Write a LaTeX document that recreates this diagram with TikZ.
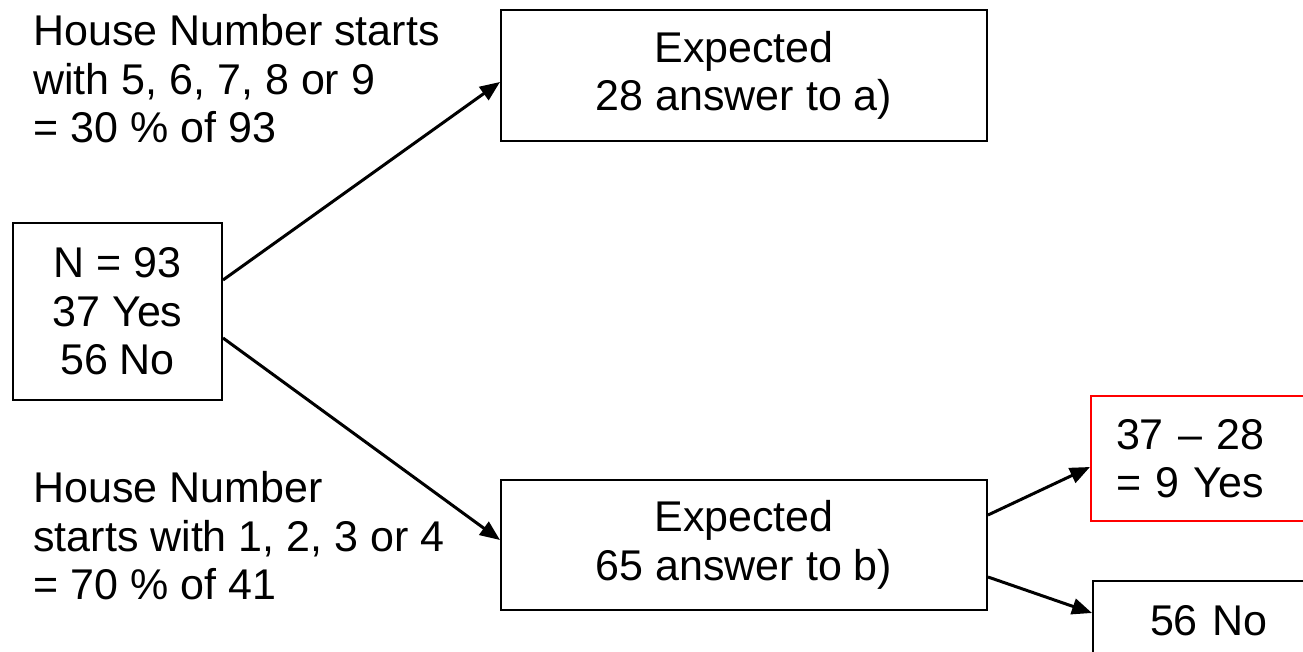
\documentclass[tikz,border=0pt]{standalone}
\usepackage{fontspec}
\setmainfont{Liberation Sans}
\usetikzlibrary{arrows.meta}
\begin{document}
\begin{tikzpicture}[x=0.5pt,y=-0.5pt,
  every node/.style={font=\fontsize{21.5pt}{24.25pt}\selectfont},
  box/.style={draw=black,line width=1pt,rectangle,align=center,inner sep=0pt},
  openbox/.style={draw=black,line width=1pt,rectangle,align=left,inner ysep=0pt},
  redbox/.style={draw=red,line width=1pt,rectangle,align=left,inner ysep=0pt,inner xsep=12.5pt},
  note/.style={align=left,inner sep=0pt,anchor=north west},
  link/.style={line width=1.5pt,-{Triangle[length=10pt,width=8pt]}}]
  \useasboundingbox (0,0) rectangle (1303,652);
  \clip (0,0) rectangle (1303,652);

  % root count
  \node[box,minimum width=104.5pt,minimum height=88.5pt] (root) at (117.5,311.5)
    {N = 93\\37 Yes\\56 No};

  % expected outcomes
  \node[box,minimum width=243pt,minimum height=65.5pt] (expa) at (744,75.5)
    {Expected\\28 answer to a)};
  \node[box,minimum width=243pt,minimum height=65pt] (expb) at (744,545)
    {Expected\\65 answer to b)};

  % final split (boxes run on past the right edge)
  \node[redbox,anchor=north west,text width=150pt,minimum height=62.5pt] (yes) at (1090,395)
    {37 – 28\\= 9 Yes};
  \node[openbox,anchor=north west,inner xsep=28.5pt,text width=150pt,minimum height=40pt] (no) at (1092,580)
    {56 No};

  % branch descriptions
  \node[note] (notea) at (33,14)
    {House Number starts\\with 5, 6, 7, 8 or 9\\= 30 \% of 93};
  \node[note] (noteb) at (33,471)
    {House Number\\starts with 1, 2, 3 or 4\\= 70 \% of 41};

  % connectors
  \draw[link] ([yshift=15.75pt]root.east) -- ([yshift=-3.25pt]expa.west);
  \draw[link] ([yshift=-13.25pt]root.east) -- ([yshift=2.5pt]expb.west);
  \draw[link] ([yshift=15pt]expb.east) -- ([yshift=-4.25pt]yes.west);
  \draw[link] ([yshift=-16pt]expb.east) -- ([yshift=4pt]no.west);
\end{tikzpicture}
\end{document}
